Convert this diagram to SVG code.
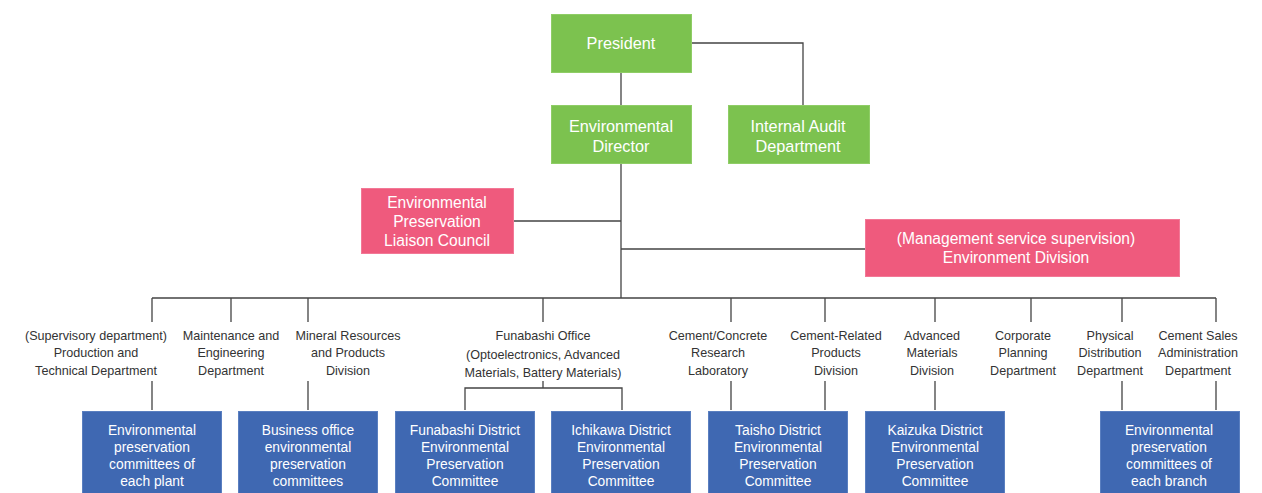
<svg xmlns="http://www.w3.org/2000/svg" width="1262" height="493" viewBox="0 0 1262 493">
<style>
text{font-family:"Liberation Sans",Arial,sans-serif;text-anchor:middle}
.g{fill:#7cc24f;stroke:#8fcd66;stroke-width:1}
.p{fill:#ef5a7d;stroke:#f27896;stroke-width:1}
.b{fill:#3f68b2;stroke:#5a7fc0;stroke-width:1}
.gt{fill:#fff;font-size:16.3px}
.pt{fill:#fff;font-size:15.6px}
.bt{fill:#fff;font-size:13.8px}
.lt{fill:#333;font-size:12.6px}
.c{stroke:#444;stroke-width:1.3;fill:none}
</style>
<rect width="1262" height="493" fill="#fff"/>
<g id="connectors" class="c">
<path d="M621 72V105M692 43H803V105M621 163V298M514 221H621M621 249H865"/>
<path d="M152 298H1216M152 298V322M231 298V322M308 298V322M543 298V322M731 298V322M825 298V322M935 298V322M1031 298V322M1122 298V322M1216 298V322"/>
<path d="M152 381V410M308 381V410M731 381V410M825 381V410M935 381V410M1122 381V410M1216 381V410"/>
<path d="M543 381V388M465 410V388H622V410"/>
</g>
<g id="president"><rect class="g" x="551.5" y="14.5" width="140" height="58"/><text class="gt" x="621" y="49">President</text></g>
<g id="env-director"><rect class="g" x="551.5" y="105.5" width="140" height="58"/><text class="gt" x="621" y="132">Environmental</text><text class="gt" x="621" y="152">Director</text></g>
<g id="internal-audit"><rect class="g" x="728.5" y="105.5" width="141" height="58"/><text class="gt" x="798" y="132">Internal Audit</text><text class="gt" x="798" y="152">Department</text></g>
<g id="liaison"><rect class="p" x="361.5" y="188.5" width="152" height="65"/><text class="pt" x="437" y="208">Environmental</text><text class="pt" x="437" y="227">Preservation</text><text class="pt" x="437" y="246">Liaison Council</text></g>
<g id="env-division"><rect class="p" x="865.5" y="219.5" width="314" height="57"/><text class="pt" x="1016" y="243.5">(Management service supervision)</text><text class="pt" x="1016" y="262.5">Environment Division</text></g>

<g id="lbl-production"><text class="lt" x="96" y="340">(Supervisory department)</text><text class="lt" x="96" y="357">Production and</text><text class="lt" x="96" y="375">Technical Department</text></g>
<g id="lbl-maintenance"><text class="lt" x="231" y="340">Maintenance and</text><text class="lt" x="231" y="357">Engineering</text><text class="lt" x="231" y="375">Department</text></g>
<g id="lbl-mineral"><text class="lt" x="348" y="340">Mineral Resources</text><text class="lt" x="348" y="357">and Products</text><text class="lt" x="348" y="375">Division</text></g>
<g id="lbl-funabashi"><text class="lt" x="543" y="340">Funabashi Office</text><text class="lt" x="543" y="359">(Optoelectronics, Advanced</text><text class="lt" x="543" y="377">Materials, Battery Materials)</text></g>
<g id="lbl-cement-lab"><text class="lt" x="718" y="340">Cement/Concrete</text><text class="lt" x="718" y="357">Research</text><text class="lt" x="718" y="375">Laboratory</text></g>
<g id="lbl-cement-related"><text class="lt" x="836" y="340">Cement-Related</text><text class="lt" x="836" y="357">Products</text><text class="lt" x="836" y="375">Division</text></g>
<g id="lbl-advanced"><text class="lt" x="932" y="340">Advanced</text><text class="lt" x="932" y="357">Materials</text><text class="lt" x="932" y="375">Division</text></g>
<g id="lbl-corporate"><text class="lt" x="1023" y="340">Corporate</text><text class="lt" x="1023" y="357">Planning</text><text class="lt" x="1023" y="375">Department</text></g>
<g id="lbl-physical"><text class="lt" x="1110" y="340">Physical</text><text class="lt" x="1110" y="357">Distribution</text><text class="lt" x="1110" y="375">Department</text></g>
<g id="lbl-cement-sales"><text class="lt" x="1198" y="340">Cement Sales</text><text class="lt" x="1198" y="357">Administration</text><text class="lt" x="1198" y="375">Department</text></g>

<g id="box-plant"><rect class="b" x="82.5" y="411.5" width="139" height="85"/><text class="bt" x="152" y="435">Environmental</text><text class="bt" x="152" y="452">preservation</text><text class="bt" x="152" y="469">committees of</text><text class="bt" x="152" y="486">each plant</text></g>
<g id="box-business"><rect class="b" x="238.5" y="411.5" width="139" height="85"/><text class="bt" x="308" y="435">Business office</text><text class="bt" x="308" y="452">environmental</text><text class="bt" x="308" y="469">preservation</text><text class="bt" x="308" y="486">committees</text></g>
<g id="box-funabashi"><rect class="b" x="395.5" y="411.5" width="139" height="85"/><text class="bt" x="465" y="435">Funabashi District</text><text class="bt" x="465" y="452">Environmental</text><text class="bt" x="465" y="469">Preservation</text><text class="bt" x="465" y="486">Committee</text></g>
<g id="box-ichikawa"><rect class="b" x="551.5" y="411.5" width="139" height="85"/><text class="bt" x="621" y="435">Ichikawa District</text><text class="bt" x="621" y="452">Environmental</text><text class="bt" x="621" y="469">Preservation</text><text class="bt" x="621" y="486">Committee</text></g>
<g id="box-taisho"><rect class="b" x="708.5" y="411.5" width="139" height="85"/><text class="bt" x="778" y="435">Taisho District</text><text class="bt" x="778" y="452">Environmental</text><text class="bt" x="778" y="469">Preservation</text><text class="bt" x="778" y="486">Committee</text></g>
<g id="box-kaizuka"><rect class="b" x="865.5" y="411.5" width="139" height="85"/><text class="bt" x="935" y="435">Kaizuka District</text><text class="bt" x="935" y="452">Environmental</text><text class="bt" x="935" y="469">Preservation</text><text class="bt" x="935" y="486">Committee</text></g>
<g id="box-branch"><rect class="b" x="1100.5" y="411.5" width="139" height="85"/><text class="bt" x="1169" y="435">Environmental</text><text class="bt" x="1169" y="452">preservation</text><text class="bt" x="1169" y="469">committees of</text><text class="bt" x="1169" y="486">each branch</text></g>
</svg>
